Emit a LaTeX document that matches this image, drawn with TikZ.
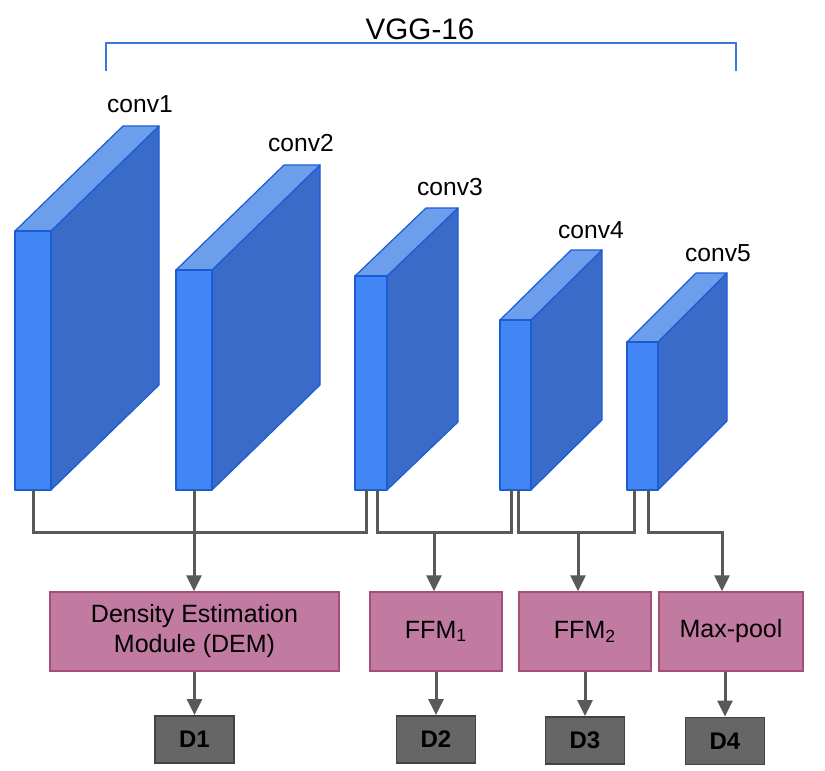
\documentclass[tikz,border=0pt]{standalone}
\usepackage{fontspec}
\setmainfont{Liberation Sans}
\usetikzlibrary{arrows.meta}
\definecolor{frontblue}{HTML}{4285F4}
\definecolor{topblue}{HTML}{6D9EEB}
\definecolor{sideblue}{HTML}{3A6BC8}
\definecolor{edgeblue}{HTML}{1A5CD6}
\definecolor{bracketblue}{HTML}{3C78D8}
\definecolor{linkgray}{HTML}{595959}
\definecolor{modpink}{HTML}{C27BA0}
\definecolor{modedge}{HTML}{A64D79}
\definecolor{outgray}{HTML}{666666}
\definecolor{outedge}{HTML}{434343}
\tikzset{
  frontface/.style={fill=frontblue,draw=edgeblue,line width=0.6pt,line join=round},
  topface/.style={fill=topblue,draw=edgeblue,line width=0.6pt,line join=round},
  sideface/.style={fill=sideblue,draw=edgeblue,line width=0.6pt,line join=round},
  convlabel/.style={font=\fontsize{12.3pt}{14pt}\selectfont},
  link/.style={draw=linkgray,line width=1.5pt},
  linkarrow/.style={link,-{Triangle[width=7.5pt,length=8pt]}},
  modbox/.style={fill=modpink,draw=modedge,line width=0.7pt,minimum height=39.5pt,
    inner sep=0pt,align=center,font=\fontsize{12.5pt}{15pt}\selectfont},
  outbox/.style={fill=outgray,draw=outedge,line width=0.9pt,minimum width=39.5pt,
    minimum height=23.5pt,inner sep=0pt,font=\fontsize{12pt}{13pt}\selectfont\bfseries}
}
\begin{document}
\begin{tikzpicture}[x=0.5pt,y=-0.5pt]
                \useasboundingbox (0,0) rectangle (825,771);
                
                % Drawing bracket VGG-16
                \draw [bracketblue, line width=1pt] (106,71) -- (106,43) -- (736,43) -- (736,71);%
                \node (vgg) at (420,29) [font=\fontsize{14.8pt}{16pt}\selectfont] {VGG-16};%
                
                % Drawing cuboid conv1
                \draw [sideface] (51,231) -- (159,126) -- (159,385) -- (51,490) -- cycle;%
                \draw [topface] (15,231) -- (123,126) -- (159,126) -- (51,231) -- cycle;%
                \draw [frontface] (15,231) rectangle (51,490);%
                \node (conv1) at (140,104) [convlabel] {conv1};%
                
                % Drawing cuboid conv2
                \draw [sideface] (212,270) -- (320,165) -- (320,385) -- (212,490) -- cycle;%
                \draw [topface] (176,270) -- (284,165) -- (320,165) -- (212,270) -- cycle;%
                \draw [frontface] (176,270) rectangle (212,490);%
                \node (conv2) at (301,143) [convlabel] {conv2};%
                
                % Drawing cuboid conv3
                \draw [sideface] (387,276) -- (458,208) -- (458,422) -- (387,490) -- cycle;%
                \draw [topface] (355,276) -- (426,208) -- (458,208) -- (387,276) -- cycle;%
                \draw [frontface] (355,276) rectangle (387,490);%
                \node (conv3) at (450,187) [convlabel] {conv3};%
                
                % Drawing cuboid conv4
                \draw [sideface] (531,320) -- (602,250) -- (602,420) -- (531,490) -- cycle;%
                \draw [topface] (500,320) -- (571,250) -- (602,250) -- (531,320) -- cycle;%
                \draw [frontface] (500,320) rectangle (531,490);%
                \node (conv4) at (591,230) [convlabel] {conv4};%
                
                % Drawing cuboid conv5
                \draw [sideface] (658,342) -- (727,273) -- (727,421) -- (658,490) -- cycle;%
                \draw [topface] (627,342) -- (696,273) -- (727,273) -- (658,342) -- cycle;%
                \draw [frontface] (627,342) rectangle (658,490);%
                \node (conv5) at (718,253) [convlabel] {conv5};%
                
                % Taps under the cuboids and the bus line
                \coordinate (c1) at (33,490);%
                \coordinate (c2) at (194,490);%
                \coordinate (c3a) at (366,490);%
                \coordinate (c3b) at (377,490);%
                \coordinate (c4a) at (511,490);%
                \coordinate (c4b) at (518,490);%
                \coordinate (c5a) at (634,490);%
                \coordinate (c5b) at (648,490);%
                \coordinate (bus) at (0,532);%
                \coordinate (j2) at (434,532);%
                \coordinate (j3) at (578,532);%
                \coordinate (j4) at (722,532);%
                
                % Drawing modules
                \node (dem) at (194.5,631.5) [modbox, minimum width=144.5pt] {Density Estimation\\Module (DEM)};%
                \node (ffm1) at (436,631.5) [modbox, minimum width=66pt] {FFM\textsubscript{1}};%
                \node (ffm2) at (585,631.5) [modbox, minimum width=66pt] {FFM\textsubscript{2}};%
                \node (maxpool) at (731,631.5) [modbox, minimum width=72pt] {Max-pool};%
                
                % Drawing outputs
                \node (d1) at (194.5,739.5) [outbox] {D1};%
                \node (d2) at (436,739.5) [outbox] {D2};%
                \node (d3) at (585,740.5) [outbox] {D3};%
                \node (d4) at (725,741) [outbox] {D4};%
                
                % Drawing group conv1 conv2 conv3
                \draw [link] (c1) -- (c1 |- bus) -- (c3a |- bus) -- (c3a);%
                \draw [linkarrow] (c2) -- (c2 |- dem.north);%
                
                % Drawing group conv3 conv4
                \draw [link] (c3b) -- (c3b |- bus) -- (c4a |- bus) -- (c4a);%
                \draw [linkarrow] (j2) -- (j2 |- ffm1.north);%
                
                % Drawing group conv4 conv5
                \draw [link] (c4b) -- (c4b |- bus) -- (c5a |- bus) -- (c5a);%
                \draw [linkarrow] (j3) -- (j3 |- ffm2.north);%
                
                % Drawing group conv5
                \draw [linkarrow] (c5b) -- (c5b |- bus) -- (j4) -- (j4 |- maxpool.north);%
                
                % Drawing module outputs
                \draw [linkarrow] (d1.north |- dem.south) -- (d1.north);%
                \draw [linkarrow] (d2.north |- ffm1.south) -- (d2.north);%
                \draw [linkarrow] (d3.north |- ffm2.south) -- (d3.north);%
                \draw [linkarrow] (d4.north |- maxpool.south) -- (d4.north);%
\end{tikzpicture}
\end{document}
